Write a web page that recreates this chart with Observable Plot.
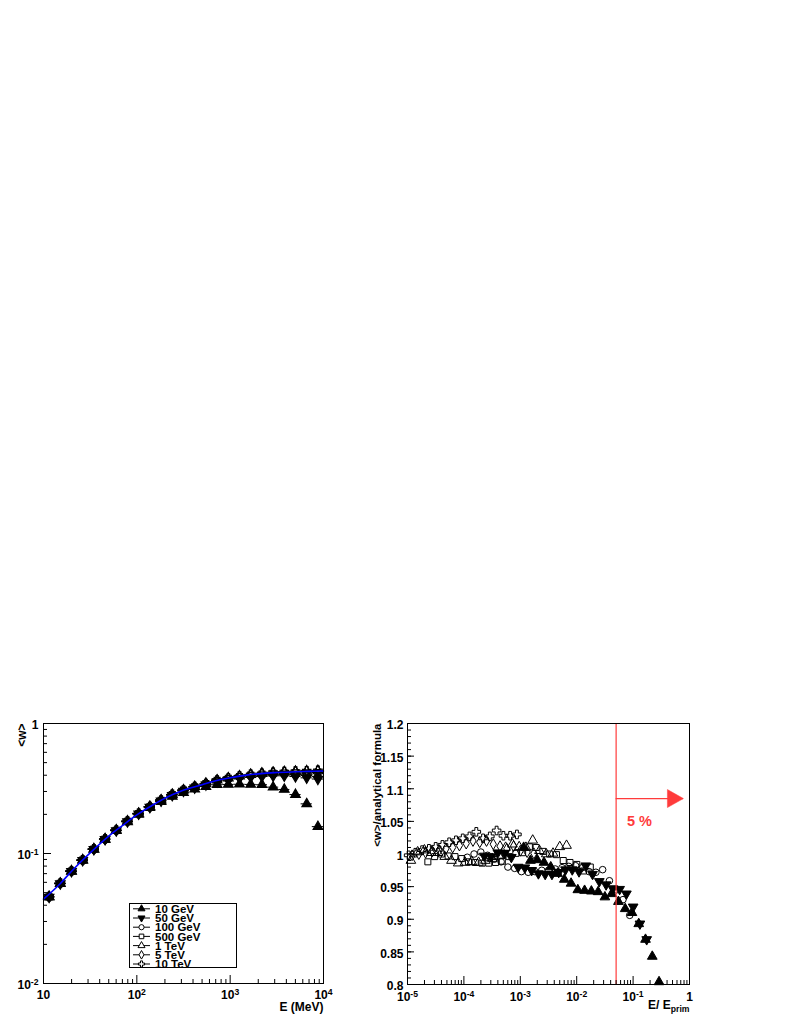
<!DOCTYPE html>
<html><head><meta charset="utf-8">
<script src="https://cdn.jsdelivr.net/npm/d3@7"></script>
<script src="https://cdn.jsdelivr.net/npm/@observablehq/plot@0.6"></script>
<style>
html,body{margin:0;padding:0;background:#fff;}
body{width:789px;height:1021px;position:relative;overflow:hidden;font-family:"Liberation Sans",Arial,sans-serif;}
#left,#right,#legend{position:absolute;}
#left{left:0;top:700px;}
#right{left:360px;top:700px;}
#legend{left:129px;top:903px;}
</style></head><body>
<div id="left"></div><div id="right"></div><div id="legend"></div>
<script>
// ---------------- data ----------------
const seriesNames = ["10 GeV","50 GeV","100 GeV","500 GeV","1 TeV","5 TeV","10 TeV"];
const primaryEnergyMeV = [1e4, 5e4, 1e5, 5e5, 1e6, 5e6, 1e7];
const binCentersMeV = [11.48,15.14,19.95,26.30,34.67,45.71,60.26,79.43,104.7,138.0,182.0,239.9,316.2,416.9,549.5,724.4,955.0,1259,1660,2188,2884,3802,5012,6607,8710];
const binEdgesMeV = [10,13.18,17.38,22.91,30.20,39.81,52.48,69.18,91.20,120.2,158.5,208.9,275.4,363.1,478.6,631.0,831.8,1096,1445,1905,2512,3311,4365,5754,7586,10000];

// <w> vs E (left panel)
const w10GeV  = [0.0462,0.0585,0.0727,0.0884,0.1074,0.128,0.150,0.175,0.200,0.225,0.251,0.275,0.294,0.312,0.327,0.338,0.340,0.341,0.340,0.338,0.324,0.311,0.284,0.241,0.161];
const w50GeV  = [0.0463,0.0587,0.0730,0.0887,0.1077,0.1285,0.150,0.176,0.202,0.227,0.254,0.280,0.302,0.320,0.338,0.357,0.368,0.379,0.386,0.391,0.395,0.396,0.391,0.382,0.374];
const w100GeV = [0.0463,0.0588,0.0731,0.0889,0.1079,0.1288,0.1505,0.1765,0.2025,0.2285,0.2565,0.2835,0.306,0.325,0.343,0.363,0.376,0.387,0.395,0.400,0.406,0.405,0.402,0.398,0.390];
const w500GeV = [0.0464,0.0589,0.0732,0.0890,0.1080,0.1290,0.1510,0.1770,0.2030,0.2290,0.2570,0.2840,0.3070,0.3260,0.3450,0.3650,0.3790,0.3910,0.4020,0.4090,0.4140,0.4160,0.4180,0.4170,0.4200];
const w1TeV   = [0.0465,0.0590,0.0733,0.0891,0.1082,0.1292,0.1512,0.1772,0.2032,0.2292,0.2572,0.2842,0.3072,0.3262,0.3452,0.3660,0.3800,0.3930,0.4050,0.4140,0.4200,0.4240,0.4270,0.4290,0.4320];
const w5TeV   = [0.0465,0.0590,0.0733,0.0892,0.1083,0.1294,0.1514,0.1775,0.2035,0.2295,0.2575,0.2845,0.3075,0.3265,0.3455,0.3665,0.3805,0.3935,0.4055,0.4130,0.4200,0.4250,0.4280,0.4320,0.4340];
const w10TeV  = [0.0466,0.0591,0.0734,0.0893,0.1084,0.1295,0.1515,0.1776,0.2036,0.2296,0.2577,0.2847,0.3077,0.3267,0.3457,0.3667,0.3807,0.3937,0.4057,0.4135,0.4210,0.4260,0.4300,0.4330,0.4360];

// analytical formula curve (blue)
const formulaE = [10,15,20,30,50,70,100,150,200,300,500,700,1000,1500,2000,3000,5000,7000,10000];
const formulaW = [0.0445,0.0583,0.0731,0.0975,0.136,0.164,0.198,0.237,0.266,0.303,0.338,0.363,0.382,0.401,0.410,0.419,0.425,0.428,0.431];

// <w>/analytical formula vs E/Eprim (right panel)
const r10GeV  = [1.010,0.990,0.991,0.987,0.980,0.970,0.961,0.955,0.945,0.944,0.943,0.942,0.934,0.939,0.927,0.916,0.910,0.893,0.869,0.843,0.804,null,null,null,null];
const r50GeV  = [0.997,0.996,1.002,1.001,0.995,0.980,0.979,0.975,0.970,0.969,0.969,0.972,0.976,0.976,0.973,0.982,0.969,0.958,0.953,0.947,0.946,0.939,0.919,0.893,0.869];
const r100GeV = [0.995,1.000,1.003,0.998,0.992,0.988,0.980,0.978,0.973,0.972,0.973,0.975,0.975,0.977,0.979,0.981,0.982,0.979,0.973,0.972,0.976,0.959,0.945,0.930,0.906];
const r500GeV = [0.988,0.996,1.000,0.997,0.996,0.993,0.988,0.987,0.986,0.986,0.987,0.989,0.996,1.001,1.002,1.011,1.010,1.004,1.000,0.999,0.990,0.987,0.984,0.974,0.980];
const r1TeV   = [0.990,1.003,1.006,1.002,1.002,0.996,0.990,0.986,0.987,0.988,0.987,0.990,0.993,0.997,1.010,1.015,1.011,1.010,1.021,1.005,1.000,1.001,1.011,1.013,null];
const r5TeV   = [null,null,null,null,null,null,0.998,1.000,1.002,1.004,1.006,1.008,1.010,1.013,1.016,1.020,1.018,1.020,1.015,1.012,1.008,1.012,1.005,1.003,1.001];
const r10TeV  = [null,null,null,null,null,null,null,null,0.998,1.002,1.006,1.008,1.011,1.014,1.018,1.021,1.024,1.027,1.034,1.024,1.027,1.036,1.028,1.028,1.030];

// annotation
const cutFraction = 0.05;
const arrowY = 1.085;
const arrowTipX = 0.78;
const cutLabel = {x: 0.13, y: 1.05, text: "5 %"};

// ticks
const xMajorL = [10,100,1000,10000];
const xLabelsL = ["10","10^2","10^3","10^4"];
const yMajorL = [0.01,0.1,1];
const yLabelsL = ["10^-2","10^-1","1"];
const xMajorR = [1e-5,1e-4,1e-3,1e-2,1e-1,1];
const xLabelsR = ["10^-5","10^-4","10^-3","10^-2","10^-1","1"];
const yMajorR = [0.8,0.85,0.9,0.95,1,1.05,1.1,1.15,1.2];
const yLabelsR = ["0.8","0.85","0.9","0.95","1","1.05","1.1","1.15","1.2"];

const leftW = [w10GeV,w50GeV,w100GeV,w500GeV,w1TeV,w5TeV,w10TeV];
const ratios = [r10GeV,r50GeV,r100GeV,r500GeV,r1TeV,r5TeV,r10TeV];

// ---------------- styles ----------------
const S3 = Math.sqrt(3);
const triDown = {draw(ctx, size){ const y = Math.sqrt(size/(S3*3)); ctx.moveTo(0, 2*y); ctx.lineTo(-S3*y, -y); ctx.lineTo(S3*y, -y); ctx.closePath(); }};
const triRight = {draw(ctx){ ctx.moveTo(0,0); ctx.lineTo(-16,-9); ctx.lineTo(-16,9); ctx.closePath(); }};
const symbols = [d3.symbolTriangle, triDown, d3.symbolCircle, d3.symbolSquare, d3.symbolTriangle, d3.symbolDiamond, d3.symbolCross];
const filled = [true,true,false,false,false,false,false];
const radius = [3.6,3.6,3.3,3.4,3.6,3.3,3.6];
const FONT = "'Liberation Sans', Arial, Helvetica, sans-serif";
const RED = "#ff3b3b";

const decadeMinor = (decades) => decades.flatMap(d => [2,3,4,5,6,7,8,9].map(m => m*d));
const xMinorL = decadeMinor([10,100,1000]);
const yMinorL = decadeMinor([0.01,0.1]);
const xMinorR = decadeMinor([1e-5,1e-4,1e-3,1e-2,1e-1]);
const yMinorR = d3.range(0,41).map(i => +(0.8 + i*0.01).toFixed(2));

const lookup = (vals, labs) => d => { const i = vals.findIndex(v => Math.abs(v - d) < 1e-12); return i < 0 ? "" : labs[i]; };
const blank = () => "";

function richText(svg){
  d3.select(svg).selectAll("text").each(function(){
    if (this.querySelector("tspan")) return;
    const s = this.textContent;
    let m = s.match(/^(.*?)\^(.+)$/);
    if (m){ this.textContent = ""; const t = d3.select(this);
      t.append("tspan").text(m[1]); t.append("tspan").attr("dy","-0.5em").attr("font-size","72%").text(m[2]); return; }
    m = s.match(/^(.*?)_(.+)$/);
    if (m){ this.textContent = ""; const t = d3.select(this);
      t.append("tspan").text(m[1]); t.append("tspan").attr("dy","0.45em").attr("font-size","72%").text(m[2]); }
  });
}

// ---------------- left panel ----------------
const leftMarks = seriesNames.flatMap((name, s) => {
  const rows = binCentersMeV.map((E, k) => ({E, lo: binEdgesMeV[k], hi: binEdgesMeV[k+1], w: leftW[s][k]}));
  return [
    Plot.ruleY(rows, {y: "w", x1: "lo", x2: "hi", stroke: "#000", strokeWidth: 1}),
    Plot.dot(rows, {x: "E", y: "w", symbol: symbols[s], r: radius[s], fill: filled[s] ? "#000" : "none", stroke: "#000", strokeWidth: 1.1})
  ];
});

const left = Plot.plot({
  width: 395, height: 321,
  marginLeft: 43, marginRight: 72, marginTop: 23, marginBottom: 38,
  x: {type: "log", domain: [10, 1e4]},
  y: {type: "log", domain: [0.01, 1]},
  style: {fontFamily: FONT, fontWeight: "bold", fontSize: "12px", color: "#000", background: "#fff", overflow: "visible"},
  marks: [
    ...leftMarks,
    Plot.line(formulaE.map((E, i) => ({E, w: formulaW[i]})), {x: "E", y: "w", stroke: "#0000ff", strokeWidth: 1.6, curve: "catmull-rom"}),
    Plot.frame({stroke: "#000", strokeWidth: 1}),
    Plot.axisX(xMinorL, {anchor: "bottom", tickSize: -4, tickFormat: blank, label: null}),
    Plot.axisX(xMajorL, {anchor: "bottom", tickSize: -8, tickFormat: blank, label: null}),
    Plot.axisX(xMajorL, {anchor: "bottom", tickSize: 0, tickPadding: 7, tickFormat: lookup(xMajorL, xLabelsL), label: null}),
    Plot.axisY(yMinorL, {anchor: "left", tickSize: -4, tickFormat: blank, label: null}),
    Plot.axisY(yMajorL, {anchor: "left", tickSize: -8, tickFormat: blank, label: null}),
    Plot.axisY(yMajorL, {anchor: "left", tickSize: 0, tickPadding: 5, dy: 2, tickFormat: lookup(yMajorL, yLabelsL), label: null}),
    Plot.text(["E (MeV)"], {frameAnchor: "bottom-right", textAnchor: "end", dy: 27, fontSize: 12, fontWeight: "bold"}),
    Plot.text(["<w>"], {frameAnchor: "top-left", textAnchor: "end", rotate: -90, dx: -26, fontSize: 12, fontWeight: "bold"})
  ]
});
richText(left);
document.getElementById("left").appendChild(left);

// ---------------- right panel ----------------
const rightMarks = seriesNames.flatMap((name, s) => {
  const rows = binCentersMeV.map((E, k) => ({x: E / primaryEnergyMeV[s], r: ratios[s][k]}))
    .filter(d => d.r != null && d.x >= 1e-5 && d.x <= 1);
  return [Plot.dot(rows, {x: "x", y: "r", symbol: symbols[s], r: radius[s], fill: filled[s] ? "#000" : "none", stroke: "#000", strokeWidth: 1})];
});

const right = Plot.plot({
  width: 429, height: 321,
  marginLeft: 47, marginRight: 100, marginTop: 23, marginBottom: 37,
  x: {type: "log", domain: [1e-5, 1]},
  y: {domain: [0.8, 1.2]},
  style: {fontFamily: FONT, fontWeight: "bold", fontSize: "12px", color: "#000", background: "#fff", overflow: "visible"},
  marks: [
    ...rightMarks,
    Plot.ruleX([cutFraction], {stroke: RED, strokeWidth: 1.2}),
    Plot.ruleY([{y: arrowY, x1: cutFraction, x2: arrowTipX}], {y: "y", x1: "x1", x2: "x2", stroke: RED, strokeWidth: 1.3}),
    Plot.dot([{x: arrowTipX, y: arrowY}], {x: "x", y: "y", symbol: triRight, fill: RED, stroke: RED, strokeWidth: 0.5}),
    Plot.text([cutLabel], {x: "x", y: "y", text: "text", fill: RED, fontSize: 14.5, fontWeight: "bold"}),
    Plot.frame({stroke: "#000", strokeWidth: 1}),
    Plot.axisX(xMinorR, {anchor: "bottom", tickSize: -4, tickFormat: blank, label: null}),
    Plot.axisX(xMajorR, {anchor: "bottom", tickSize: -8, tickFormat: blank, label: null}),
    Plot.axisX(xMajorR, {anchor: "bottom", tickSize: 0, tickPadding: 8, tickFormat: lookup(xMajorR, xLabelsR), label: null}),
    Plot.axisY(yMinorR, {anchor: "left", tickSize: -4, tickFormat: blank, label: null}),
    Plot.axisY(yMajorR, {anchor: "left", tickSize: -7, tickFormat: blank, label: null}),
    Plot.axisY(yMajorR, {anchor: "left", tickSize: 0, tickPadding: 4, dy: 2, tickFormat: lookup(yMajorR, yLabelsR), label: null}),
    Plot.text(["E/ E_prim"], {frameAnchor: "bottom-right", textAnchor: "end", dy: 24, fontSize: 12, fontWeight: "bold"}),
    Plot.text(["<w>/analytical formula"], {frameAnchor: "top-left", textAnchor: "end", rotate: -90, dx: -35, fontSize: 11.5, fontWeight: "bold"})
  ]
});
richText(right);
document.getElementById("right").appendChild(right);

// ---------------- legend (left panel) ----------------
const lg = d3.select("#legend").append("svg").attr("width", 112).attr("height", 68)
  .style("font-family", FONT).style("font-weight", "bold").style("font-size", "11.5px");
lg.append("rect").attr("x", 0.5).attr("y", 0.5).attr("width", 107).attr("height", 64)
  .attr("fill", "#fff").attr("stroke", "#000").attr("stroke-width", 1);
seriesNames.forEach((name, s) => {
  const y = 5.8 + s * 9.2;
  const g = lg.append("g").attr("transform", `translate(0,${y})`);
  g.append("line").attr("x1", 4).attr("x2", 21).attr("y1", 0).attr("y2", 0).attr("stroke", "#000");
  g.append("path").attr("transform", "translate(12.5,0)")
    .attr("d", d3.symbol().type(symbols[s]).size(Math.PI * 2.6 * 2.6)())
    .attr("fill", filled[s] ? "#000" : "#fff").attr("stroke", "#000");
  g.append("text").attr("x", 26).attr("y", 0).attr("dy", "0.36em").text(name);
});
</script>
</body></html>
